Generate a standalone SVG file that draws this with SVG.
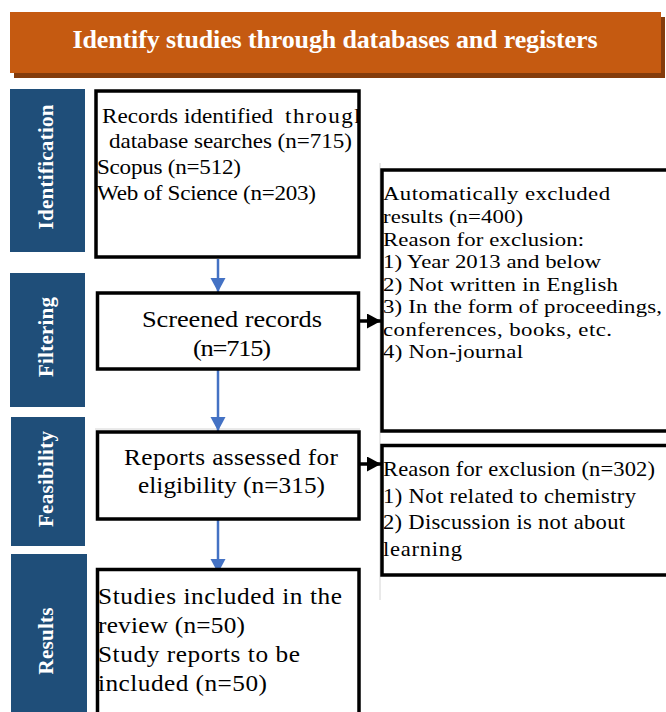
<svg xmlns="http://www.w3.org/2000/svg" width="666" height="712" viewBox="0 0 666 712">
<style>
.box{fill:#fff;stroke:#000;stroke-width:3.5}
.bar{fill:#1F4E79}
.lbl{font-family:"Liberation Serif","Times New Roman",serif;font-weight:bold;fill:#fff;font-size:21px}
.t{font-family:"Liberation Serif","Times New Roman",serif;fill:#000}
.s1{font-size:21px}.s2{font-size:24px}.s3{font-size:23px}.s4{font-size:23px}.s5{font-size:19px}.s6{font-size:20px}
.blue{stroke:#4472C4;stroke-width:2.5;fill:none}
.blk{stroke:#000;stroke-width:3.5;fill:none}
.faint{stroke:#d4d4d4;stroke-width:1;fill:none}
</style>
<defs>
<marker id="ab" markerUnits="userSpaceOnUse" markerWidth="16" markerHeight="16" refX="14" refY="7.5" orient="auto">
<path d="M0,0 L14,7.5 L0,15 Z" fill="#4472C4"/>
</marker>
<marker id="ak" markerUnits="userSpaceOnUse" markerWidth="16" markerHeight="16" refX="14" refY="7.5" orient="auto">
<path d="M0,0 L14,7.5 L0,15 Z" fill="#000"/>
</marker>
<clipPath id="c1"><rect x="97" y="92" width="261" height="165"/></clipPath>
</defs>
<rect width="666" height="712" fill="#fff"/>
<g class="faint" id="faint">
<line x1="380" y1="163" x2="380" y2="600"/>
<line x1="95" y1="429" x2="360" y2="429"/>
</g>
<g id="header">
<rect x="14" y="17" width="651" height="61" fill="#843C0C"/>
<rect x="10" y="12" width="651" height="61" fill="#C55A11"/>
<text x="335" y="48" text-anchor="middle" font-family="'Liberation Serif','Times New Roman',serif" font-weight="bold" font-size="26" fill="#fff" textLength="525">Identify studies through databases and registers</text>
</g>
<g id="stage-identification">
<rect class="bar" x="10" y="89" width="75" height="163"/>
<text class="lbl" transform="translate(53,167) rotate(-90)" text-anchor="middle" textLength="125">Identification</text>
</g>
<g id="stage-filtering">
<rect class="bar" x="10" y="273" width="75" height="134"/>
<text class="lbl" transform="translate(53,337) rotate(-90)" text-anchor="middle" textLength="80">Filtering</text>
</g>
<g id="stage-feasibility">
<rect class="bar" x="11" y="417" width="74" height="129"/>
<text class="lbl" transform="translate(53,479) rotate(-90)" text-anchor="middle" textLength="96">Feasibility</text>
</g>
<g id="stage-results">
<rect class="bar" x="11" y="554" width="76" height="160"/>
<text class="lbl" transform="translate(53,641) rotate(-90)" text-anchor="middle" textLength="67">Results</text>
</g>
<g id="connectors">
<line class="blue" x1="218" y1="259" x2="218" y2="292" marker-end="url(#ab)"/>
<line class="blue" x1="218" y1="370" x2="218" y2="431" marker-end="url(#ab)"/>
<line class="blue" x1="218" y1="520" x2="218" y2="573" marker-end="url(#ab)"/>
<line class="blk" x1="360" y1="321" x2="381" y2="321" marker-end="url(#ak)"/>
<line class="blk" x1="360" y1="464" x2="381" y2="464" marker-end="url(#ak)"/>
</g>
<g id="records-identified">
<rect class="box" x="96" y="91" width="263" height="166"/>
<g clip-path="url(#c1)">
<text class="t s1" transform="matrix(1.1 0 0 1 102 123)" textLength="155.5">Records identified</text>
<text class="t s1" transform="matrix(1.1 0 0 1 285 123)" textLength="73.6">through</text>
</g>
<text class="t s1" transform="matrix(1.1 0 0 1 109 148)" textLength="220.9">database searches (n=715)</text>
<text class="t s1" transform="matrix(1.1 0 0 1 97 174)" textLength="130.9">Scopus (n=512)</text>
<text class="t s1" transform="matrix(1.1 0 0 1 97 200)" textLength="199.1">Web of Science (n=203)</text>
</g>
<g id="screened">
<rect class="box" x="97.5" y="293" width="261" height="76"/>
<text class="t s2" transform="matrix(1.1 0 0 1 142 327)" textLength="163.6">Screened records</text>
<text class="t s2" transform="matrix(1.1 0 0 1 193 356)" textLength="70.9">(n=715)</text>
</g>
<g id="assessed">
<rect class="box" x="97.5" y="432" width="261.5" height="87"/>
<text class="t s3" transform="matrix(1.1 0 0 1 124 465)" textLength="194.5">Reports assessed for</text>
<text class="t s3" transform="matrix(1.1 0 0 1 138 493)" textLength="170">eligibility (n=315)</text>
</g>
<g id="included">
<rect class="box" x="97.5" y="569.5" width="261.5" height="160"/>
<text class="t s4" transform="matrix(1.1 0 0 1 98 604)" textLength="221.8">Studies included in the</text>
<text class="t s4" transform="matrix(1.1 0 0 1 98 633)" textLength="133.6">review (n=50)</text>
<text class="t s4" transform="matrix(1.1 0 0 1 98 662)" textLength="183.6">Study reports to be</text>
<text class="t s4" transform="matrix(1.1 0 0 1 98 691)" textLength="153.6">included (n=50)</text>
</g>
<g id="auto-excluded">
<rect class="box" x="382" y="170" width="300" height="261"/>
<text class="t s5" transform="matrix(1.2 0 0 1 383 200)" textLength="189.2">Automatically excluded</text>
<text class="t s5" transform="matrix(1.2 0 0 1 383 223)" textLength="116.7">results (n=400)</text>
<text class="t s5" transform="matrix(1.2 0 0 1 383 246)" textLength="167.5">Reason for exclusion:</text>
<text class="t s5" transform="matrix(1.2 0 0 1 383 268)" textLength="181.7">1) Year 2013 and below</text>
<text class="t s5" transform="matrix(1.2 0 0 1 383 291)" textLength="195.8">2) Not written in English</text>
<text class="t s5" transform="matrix(1.2 0 0 1 383 313)" textLength="232.5">3) In the form of proceedings,</text>
<text class="t s5" transform="matrix(1.2 0 0 1 383 336)" textLength="190.8">conferences, books, etc.</text>
<text class="t s5" transform="matrix(1.2 0 0 1 383 358)" textLength="116.7">4) Non-journal</text>
</g>
<g id="excluded-302">
<rect class="box" x="382" y="445.5" width="300" height="129.5"/>
<text class="t s6" transform="matrix(1.13 0 0 1 383 476)" textLength="240.7">Reason for exclusion (n=302)</text>
<text class="t s6" transform="matrix(1.13 0 0 1 383 503)" textLength="223.9">1) Not related to chemistry</text>
<text class="t s6" transform="matrix(1.13 0 0 1 383 529)" textLength="214.2">2) Discussion is not about</text>
<text class="t s6" transform="matrix(1.13 0 0 1 383 556)" textLength="69.9">learning</text>
</g>
</svg>
